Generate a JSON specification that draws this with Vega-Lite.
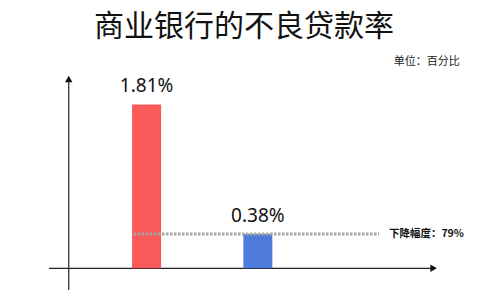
{
  "$schema": "https://vega.github.io/schema/vega-lite/v6.json",
  "autosize": "none",
  "width": 500,
  "height": 240,
  "padding": {"top": 60, "left": 0, "right": 0, "bottom": 8},
  "background": "white",
  "title": {
    "text": "商业银行的不良贷款率",
    "anchor": "middle",
    "dx": -6,
    "offset": 14,
    "font": "Noto Sans CJK SC",
    "fontSize": 30,
    "fontWeight": "normal",
    "color": "#111111"
  },
  "config": {"view": {"stroke": null}},
  "data": {"values": [{}]},
  "datasets": {
    "rates": [
      {"pos": 1, "rate": 1.81, "label": "1.81%"},
      {"pos": 2, "rate": 0.38, "label": "0.38%"}
    ]
  },
  "layer": [
    {
      "description": "horizontal axis line",
      "mark": {"type": "rule", "color": "#222222", "strokeWidth": 1.2},
      "encoding": {
        "x": {"datum": 0.123, "type": "quantitative", "scale": {"domain": [-0.273, 4.132], "nice": false, "zero": false}, "axis": null},
        "x2": {"datum": 3.57},
        "y": {"datum": 0, "type": "quantitative", "scale": {"domain": [-0.35, 2.3], "nice": false, "zero": false}, "axis": null}
      }
    },
    {
      "description": "vertical axis line",
      "mark": {"type": "rule", "color": "#222222", "strokeWidth": 1.2},
      "encoding": {
        "x": {"datum": 0.3, "type": "quantitative", "scale": {"domain": [-0.273, 4.132], "nice": false, "zero": false}, "axis": null},
        "y": {"datum": -0.24, "type": "quantitative", "scale": {"domain": [-0.35, 2.3], "nice": false, "zero": false}, "axis": null},
        "y2": {"datum": 2.09}
      }
    },
    {
      "description": "arrowhead of the vertical axis",
      "mark": {"type": "point", "shape": "triangle-up", "filled": true, "color": "#111111", "size": 55, "opacity": 1},
      "encoding": {
        "x": {"datum": 0.3, "type": "quantitative", "scale": {"domain": [-0.273, 4.132], "nice": false, "zero": false}, "axis": null},
        "y": {"datum": 2.09, "type": "quantitative", "scale": {"domain": [-0.35, 2.3], "nice": false, "zero": false}, "axis": null}
      }
    },
    {
      "description": "arrowhead of the horizontal axis",
      "mark": {"type": "point", "shape": "triangle-right", "filled": true, "color": "#111111", "size": 55, "opacity": 1},
      "encoding": {
        "x": {"datum": 3.58, "type": "quantitative", "scale": {"domain": [-0.273, 4.132], "nice": false, "zero": false}, "axis": null},
        "y": {"datum": 0, "type": "quantitative", "scale": {"domain": [-0.35, 2.3], "nice": false, "zero": false}, "axis": null}
      }
    },
    {
      "data": {"name": "rates"},
      "mark": {"type": "bar", "size": 29},
      "encoding": {
        "x": {"field": "pos", "type": "quantitative", "scale": {"domain": [-0.273, 4.132], "nice": false, "zero": false}, "axis": null},
        "y": {"field": "rate", "type": "quantitative", "scale": {"domain": [-0.35, 2.3], "nice": false, "zero": false}, "axis": null},
        "y2": {"datum": 0},
        "color": {"field": "pos", "type": "nominal", "scale": {"range": ["#FA5959", "#4F7BDB"]}, "legend": null}
      }
    },
    {
      "data": {"name": "rates"},
      "mark": {"type": "text", "baseline": "alphabetic", "dy": -12, "font": "Noto Sans", "fontSize": 19, "color": "#111111"},
      "encoding": {
        "x": {"field": "pos", "type": "quantitative", "scale": {"domain": [-0.273, 4.132], "nice": false, "zero": false}, "axis": null},
        "y": {"field": "rate", "type": "quantitative", "scale": {"domain": [-0.35, 2.3], "nice": false, "zero": false}, "axis": null},
        "text": {"field": "label"}
      }
    },
    {
      "description": "dotted reference line at the lower rate",
      "mark": {"type": "rule", "color": "#A6A6A6", "strokeWidth": 3, "strokeDash": [2.5, 1.5]},
      "encoding": {
        "x": {"datum": 0.887, "type": "quantitative", "scale": {"domain": [-0.273, 4.132], "nice": false, "zero": false}, "axis": null},
        "x2": {"datum": 3.09},
        "y": {"datum": 0.38, "type": "quantitative", "scale": {"domain": [-0.35, 2.3], "nice": false, "zero": false}, "axis": null}
      }
    },
    {
      "mark": {"type": "text", "align": "left", "baseline": "middle", "font": "Noto Sans CJK SC", "fontSize": 10.5, "fontWeight": "bold", "color": "#111111", "text": "下降幅度：79%"},
      "encoding": {
        "x": {"datum": 3.178, "type": "quantitative", "scale": {"domain": [-0.273, 4.132], "nice": false, "zero": false}, "axis": null},
        "y": {"datum": 0.38, "type": "quantitative", "scale": {"domain": [-0.35, 2.3], "nice": false, "zero": false}, "axis": null}
      }
    },
    {
      "mark": {"type": "text", "align": "left", "baseline": "middle", "font": "Noto Sans CJK SC", "fontSize": 11, "color": "#222222", "text": "单位：百分比"},
      "encoding": {
        "x": {"datum": 3.222, "type": "quantitative", "scale": {"domain": [-0.273, 4.132], "nice": false, "zero": false}, "axis": null},
        "y": {"datum": 2.278, "type": "quantitative", "scale": {"domain": [-0.35, 2.3], "nice": false, "zero": false}, "axis": null}
      }
    }
  ]
}
